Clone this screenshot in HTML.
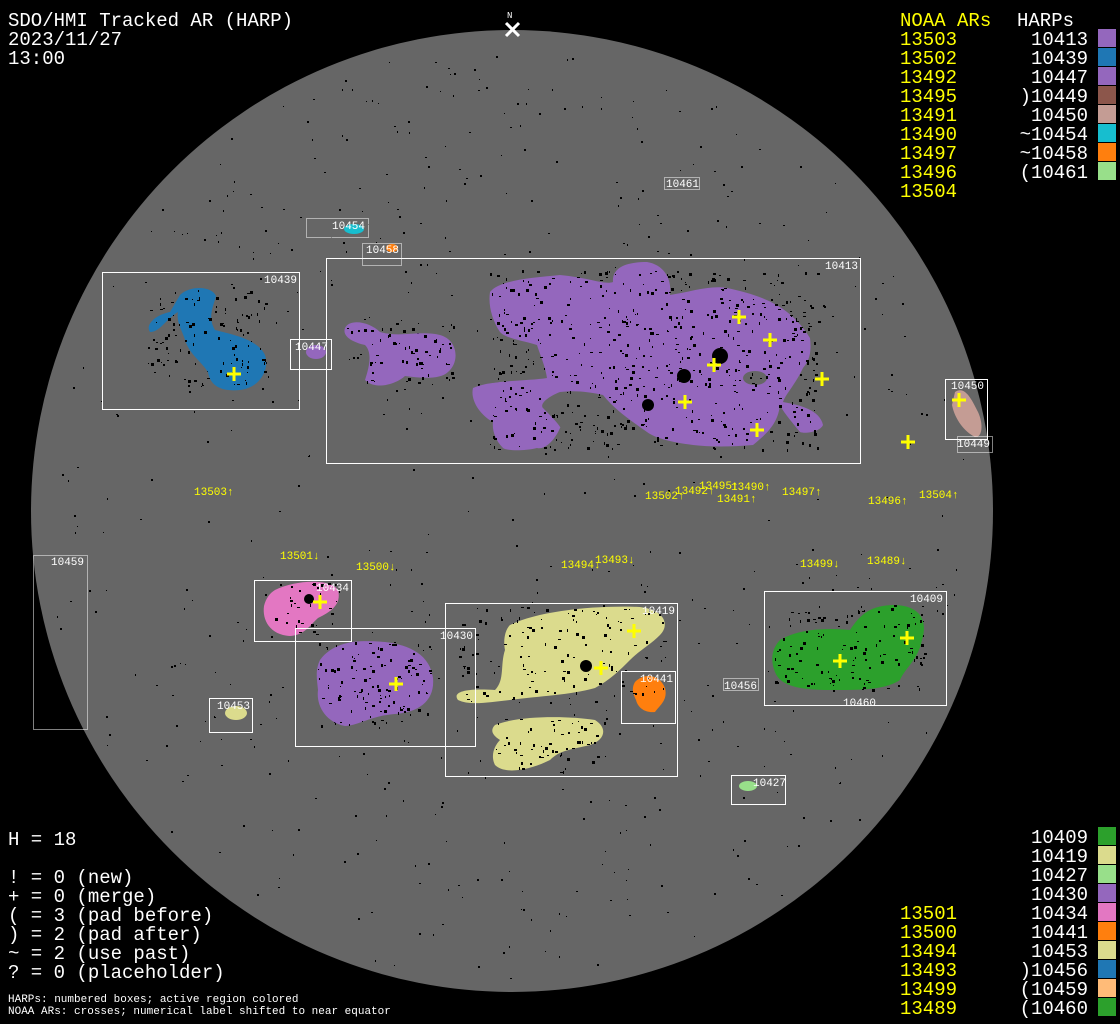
<!DOCTYPE html>
<html><head><meta charset="utf-8"><style>
html,body{margin:0;padding:0;background:#000;width:1120px;height:1024px;overflow:hidden}
svg{display:block}
.t{font-family:"Liberation Mono",monospace;font-size:19px;fill:#fff}
.y{fill:#ffff00}
.s{font-family:"Liberation Mono",monospace;font-size:11px;fill:#fff}
.sy{font-family:"Liberation Mono",monospace;font-size:11px;fill:#ffff00}
.b{fill:none;stroke:#fff;stroke-width:1}
.d{fill:none;stroke:#fff;stroke-width:1;stroke-dasharray:1 1}
.c{stroke:#ffff00;stroke-width:3}
</style></head><body>
<svg id="s" width="1120" height="1024" viewBox="0 0 1120 1024" xmlns="http://www.w3.org/2000/svg">
<rect width="1120" height="1024" fill="#000"/>
<circle cx="512" cy="511" r="481" fill="#666"/>
<g id="specks" fill="#000"></g>
<path fill="#9467bd" d="M490,292 C500,280 530,278 560,275 C590,278 605,285 613,282 C612,268 625,262 647,262 C665,265 672,280 670,295 C690,292 710,285 727,288 C760,295 790,305 810,338 C812,355 808,362 803,368 C795,385 785,395 783,402 C800,405 820,410 823,425 C820,432 805,434 800,432 C790,420 782,410 780,405 C778,420 772,430 753,445 C730,447 710,447 693,445 C670,442 655,438 647,432 C630,420 615,410 603,395 C590,392 575,390 560,392 C545,398 540,405 543,408 C555,420 562,428 560,428 C555,440 545,450 537,448 C520,452 505,450 503,448 C495,440 492,430 493,422 C480,415 470,400 473,388 C485,383 495,383 500,382 C520,380 535,380 547,378 C545,365 540,355 537,345 C520,340 505,338 500,332 C492,320 488,305 490,292Z"/>
<ellipse cx="755" cy="378" rx="12" ry="7" fill="#666"/>
<path fill="#9467bd" d="M345,328 C350,318 370,322 380,332 C400,338 420,330 440,335 C458,340 460,362 448,372 C440,380 420,378 405,376 C395,385 375,390 365,380 C370,365 372,352 365,345 C352,342 342,336 345,328Z"/>
<path fill="#1f77b4" d="M180,295 C190,285 212,286 216,296 C212,310 208,318 215,330 C235,335 258,340 265,355 C270,372 258,388 240,390 C220,392 210,385 208,372 C200,360 190,355 185,340 C182,330 176,322 178,312 C165,320 160,332 150,332 C145,325 155,315 170,312Z"/>
<ellipse cx="316" cy="352" rx="10" ry="7" fill="#9467bd"/>
<ellipse cx="354" cy="229" rx="10" ry="5" fill="#17becf"/>
<ellipse cx="392" cy="248" rx="6" ry="4" fill="#ff7f0e"/>
<path fill="#c49c94" d="M955,392 C965,385 972,400 978,412 C984,425 982,438 975,437 C965,432 955,420 952,405Z"/>
<path fill="#e377c2" d="M275,590 C295,580 330,578 338,590 C342,605 330,612 318,618 C310,625 305,635 290,636 C270,635 262,620 264,606 C266,598 270,593 275,590Z"/>
<path fill="#9467bd" d="M320,660 C335,640 360,640 385,642 C410,645 430,655 433,678 C435,700 420,712 395,714 C370,716 360,725 345,726 C325,722 316,705 318,690 C317,680 315,670 320,660Z"/>
<ellipse cx="236" cy="713" rx="11" ry="7" fill="#dbdb8d"/>
<path fill="#dbdb8d" d="M510,625 C540,610 600,605 640,607 C665,610 670,625 660,635 C650,645 640,650 630,660 C620,670 610,680 595,688 C570,695 540,696 510,700 C490,702 470,706 458,700 C452,692 465,688 495,690 C505,680 500,665 505,650 C503,640 505,630 510,625Z"/>
<path fill="#dbdb8d" d="M495,725 C520,715 570,716 595,720 C608,728 605,740 590,745 C570,750 560,750 550,760 C530,770 505,775 495,765 C490,755 495,745 500,740 C492,735 490,730 495,725Z"/>
<path fill="#ff7f0e" d="M635,682 C645,672 660,675 665,688 C668,700 660,705 655,712 C645,713 638,708 636,700 C632,692 632,687 635,682Z"/>
<path fill="#2ca02c" d="M780,640 C800,628 830,628 850,630 C860,615 870,605 895,605 C920,606 928,620 922,640 C918,660 905,668 900,680 C885,690 860,690 830,690 C800,690 780,686 775,672 C770,660 772,648 780,640Z"/>
<ellipse cx="748" cy="786" rx="9" ry="5" fill="#98df8a"/>
<g id="dark" fill="#000"></g>
<circle cx="720" cy="356" r="8" fill="#000"/><circle cx="684" cy="376" r="7" fill="#000"/>
<circle cx="648" cy="405" r="6" fill="#000"/><circle cx="586" cy="666" r="6" fill="#000"/>
<circle cx="309" cy="599" r="5" fill="#000"/>
<rect class="b" x="102.5" y="272.5" width="197" height="137"/>
<rect class="b" x="290.5" y="339.5" width="41" height="30"/>
<rect class="b" x="326.5" y="258.5" width="534" height="205"/>
<rect class="d" x="306.5" y="218.5" width="62" height="19"/>
<rect class="d" x="362.5" y="243.5" width="39" height="22"/>
<rect class="d" x="664.5" y="177.5" width="35" height="12"/>
<rect class="b" x="945.5" y="379.5" width="42" height="60"/>
<rect class="d" x="957.5" y="436.5" width="35" height="16"/>
<rect class="d" x="33.5" y="555.5" width="54" height="174"/>
<rect class="b" x="254.5" y="580.5" width="97" height="61"/>
<rect class="b" x="295.5" y="628.5" width="180" height="118"/>
<rect class="b" x="445.5" y="603.5" width="232" height="173"/>
<rect class="b" x="621.5" y="671.5" width="54" height="52"/>
<rect class="b" x="209.5" y="698.5" width="43" height="34"/>
<rect class="b" x="764.5" y="591.5" width="182" height="114"/>
<rect class="d" x="723.5" y="678.5" width="35" height="12"/>
<rect class="b" x="731.5" y="775.5" width="54" height="29"/>
<g class="s">
<text x="264" y="283">10439</text><text x="295" y="350">10447</text><text x="825" y="269">10413</text>
<text x="332" y="229">10454</text><text x="366" y="253">10458</text><text x="666" y="187">10461</text>
<text x="951" y="389">10450</text><text x="957" y="447">10449</text><text x="51" y="565">10459</text>
<text x="316" y="591">10434</text><text x="440" y="639">10430</text><text x="642" y="614">10419</text>
<text x="640" y="682">10441</text><text x="217" y="709">10453</text><text x="910" y="602">10409</text>
<text x="724" y="689">10456</text><text x="843" y="706">10460</text><text x="753" y="786">10427</text>
</g>
<g class="sy">
<text x="194" y="495">13503↑</text><text x="645" y="499">13502↑</text><text x="675" y="494">13492↑</text>
<text x="699" y="489">13495↑</text><text x="731" y="490">13490↑</text><text x="717" y="502">13491↑</text>
<text x="782" y="495">13497↑</text><text x="868" y="504">13496↑</text><text x="919" y="498">13504↑</text>
<text x="280" y="559">13501↓</text><text x="356" y="570">13500↓</text><text x="561" y="568">13494↓</text>
<text x="595" y="563">13493↓</text><text x="800" y="567">13499↓</text><text x="867" y="564">13489↓</text>
</g>
<g class="c" id="cr"></g>
<text x="507" y="18" class="s" style="font-size:9px">N</text>
<path d="M506,23 L519,36 M519,23 L506,36" stroke="#fff" stroke-width="3"/>
<g class="t">
<text x="8" y="26">SDO/HMI Tracked AR (HARP)</text>
<text x="8" y="45">2023/11/27</text>
<text x="8" y="64">13:00</text>
<text x="8" y="845">H = 18</text>
<text x="8" y="883">! = 0 (new)</text>
<text x="8" y="902">+ = 0 (merge)</text>
<text x="8" y="921">( = 3 (pad before)</text>
<text x="8" y="940">) = 2 (pad after)</text>
<text x="8" y="959">~ = 2 (use past)</text>
<text x="8" y="978">? = 0 (placeholder)</text>
<text x="900" y="26" class="y">NOAA ARs</text><text x="1017" y="26">HARPs</text>
</g>
<text x="8" y="1002" class="s">HARPs: numbered boxes; active region colored</text>
<text x="8" y="1014" class="s">NOAA ARs: crosses; numerical label shifted to near equator</text>
<g id="leg"></g>
</svg>
<script>
(function(){
var NS="http://www.w3.org/2000/svg";
function el(p,t,a,txt){var e=document.createElementNS(NS,t);for(var k in a)e.setAttribute(k,a[k]);if(txt!=null)e.textContent=txt;p.appendChild(e);return e;}
var seed=7;function r(){seed=(seed*16807)%2147483647;return seed/2147483647;}
var sp=document.getElementById('specks');
for(var i=0;i<700;i++){var a=r()*6.283,d=Math.sqrt(r())*470;var x=512+Math.cos(a)*d,y=511+Math.sin(a)*d;
if(y>430&&y<560&&r()<0.6)continue;el(sp,'rect',{x:x.toFixed(0),y:y.toFixed(0),width:1+(r()*2|0),height:1+(r()*2|0)});}
var dk=document.getElementById('dark');
var regs=[[490,270,330,180,600],[345,320,110,65,70],[150,290,120,100,110],[265,580,75,55,35],[318,642,115,84,120],[455,607,210,95,140],[495,718,110,55,60],[775,605,150,85,120]];
regs.forEach(function(g){for(var i=0;i<g[4];i++){var x=g[0]+r()*g[2],y=g[1]+r()*g[3];el(dk,'rect',{x:x|0,y:y|0,width:1+(r()*3|0),height:1+(r()*3|0)});}});
var cr=document.getElementById('cr');
[[234,374],[739,317],[770,340],[714,365],[822,379],[685,402],[757,430],[959,400],[908,442],[320,602],[396,684],[634,631],[601,668],[840,661],[907,638]].forEach(function(c){
el(cr,'path',{d:'M'+(c[0]-7)+','+c[1]+'h14M'+c[0]+','+(c[1]-7)+'v14'});});
var lg=document.getElementById('leg');
function row(y,noaa,h,col){if(noaa)el(lg,'text',{x:900,y:y,'class':'t y'},noaa);if(h)el(lg,'text',{x:1088,y:y,'class':'t','text-anchor':'end'},h);if(col)el(lg,'rect',{x:1098,y:y-16,width:18,height:18,fill:col});}
var topRows=[["13503","10413","#9467bd"],["13502","10439","#1f77b4"],["13492","10447","#9467bd"],["13495",")10449","#8c564b"],["13491","10450","#c49c94"],["13490","~10454","#17becf"],["13497","~10458","#ff7f0e"],["13496","(10461","#98df8a"],["13504","",null]];
topRows.forEach(function(t,i){row(45+i*19,t[0],t[1],t[2]);});
var botRows=[["","10409","#2ca02c"],["","10419","#dbdb8d"],["","10427","#98df8a"],["","10430","#9467bd"],["13501","10434","#e377c2"],["13500","10441","#ff7f0e"],["13494","10453","#dbdb8d"],["13493",")10456","#1f77b4"],["13499","(10459","#ffbb78"],["13489","(10460","#2ca02c"]];
botRows.forEach(function(t,i){row(843+i*19,t[0],t[1],t[2]);});
})();
</script>
</body></html>
